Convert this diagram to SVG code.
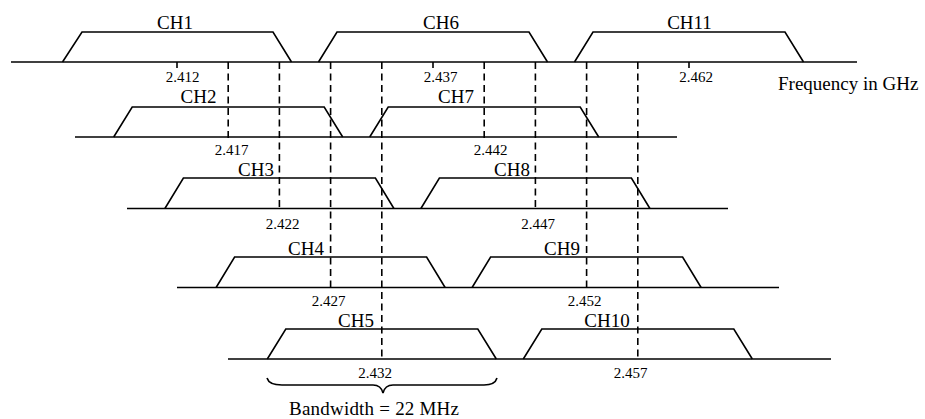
<svg xmlns="http://www.w3.org/2000/svg" width="925" height="419" viewBox="0 0 925 419">
<style>
.ln{stroke:#000;stroke-width:1.6;fill:none;stroke-linejoin:miter}
.ds{stroke:#000;stroke-width:1.6;fill:none;stroke-dasharray:7 4.5}
.ch{font-family:"Liberation Serif","Times New Roman",serif;font-size:19px;fill:#000;text-anchor:middle}
.nm{font-family:"Liberation Serif","Times New Roman",serif;font-size:15px;fill:#000;text-anchor:middle}
.lb{font-family:"Liberation Serif","Times New Roman",serif;font-size:19px;fill:#000}
</style>
<rect x="0" y="0" width="925" height="419" fill="#fff"/>
<g id="axes">
<line class="ln" x1="11" y1="62" x2="857" y2="62"/>
<line class="ln" x1="75" y1="137" x2="677" y2="137"/>
<line class="ln" x1="127" y1="208.5" x2="728" y2="208.5"/>
<line class="ln" x1="177" y1="287.5" x2="779" y2="287.5"/>
<line class="ln" x1="228" y1="359" x2="831" y2="359"/>
<line class="ln" x1="177" y1="62" x2="177" y2="68"/>
<line class="ln" x1="433" y1="62" x2="433" y2="68"/>
<line class="ln" x1="689" y1="62" x2="689" y2="68"/>
<text class="lb" x="778" y="90">Frequency in GHz</text>
</g>
<g id="connectors">
<line class="ds" x1="228.2" y1="62" x2="228.2" y2="139"/>
<line class="ds" x1="279.4" y1="62" x2="279.4" y2="211"/>
<line class="ds" x1="330.6" y1="62" x2="330.6" y2="290"/>
<line class="ds" x1="381.8" y1="62" x2="381.8" y2="361"/>
<line class="ds" x1="484.2" y1="62" x2="484.2" y2="139"/>
<line class="ds" x1="535.4" y1="62" x2="535.4" y2="211"/>
<line class="ds" x1="586.6" y1="62" x2="586.6" y2="290"/>
<line class="ds" x1="637.8" y1="62" x2="637.8" y2="361"/>
</g>
<g id="ch1">
<polyline class="ln" points="62.5,62 82,32 273,32 291.5,62"/>
<text class="ch" x="175" y="29">CH1</text>
<text class="nm" x="182.5" y="82">2.412</text>
</g>
<g id="ch6">
<polyline class="ln" points="318.5,62 337,32 529,32 547.5,62"/>
<text class="ch" x="441" y="29">CH6</text>
<text class="nm" x="440.5" y="82">2.437</text>
</g>
<g id="ch11">
<polyline class="ln" points="574.5,62 593,32 785,32 803.5,62"/>
<text class="ch" x="689.5" y="29">CH11</text>
<text class="nm" x="696" y="82">2.462</text>
</g>
<g id="ch2">
<polyline class="ln" points="113.7,137 132.2,107 324.2,107 342.7,137"/>
<text class="ch" x="198.5" y="103">CH2</text>
<text class="nm" x="231.5" y="155">2.417</text>
</g>
<g id="ch7">
<polyline class="ln" points="369.7,137 388.2,107 580.2,107 598.7,137"/>
<text class="ch" x="456" y="103">CH7</text>
<text class="nm" x="490.5" y="154.5">2.442</text>
</g>
<g id="ch3">
<polyline class="ln" points="164.9,208.5 183.4,178 375.4,178 393.9,208.5"/>
<text class="ch" x="256" y="176">CH3</text>
<text class="nm" x="282.5" y="229">2.422</text>
</g>
<g id="ch8">
<polyline class="ln" points="420.9,208.5 439.4,178 631.4,178 649.9,208.5"/>
<text class="ch" x="512" y="176">CH8</text>
<text class="nm" x="538" y="229">2.447</text>
</g>
<g id="ch4">
<polyline class="ln" points="216.1,287.5 234.6,257 426.6,257 445.1,287.5"/>
<text class="ch" x="306" y="254.5">CH4</text>
<text class="nm" x="328.5" y="306">2.427</text>
</g>
<g id="ch9">
<polyline class="ln" points="472.1,287.5 490.6,257 682.6,257 701.1,287.5"/>
<text class="ch" x="562" y="254.5">CH9</text>
<text class="nm" x="584.5" y="305.5">2.452</text>
</g>
<g id="ch5">
<polyline class="ln" points="267.3,359 285.8,329 477.8,329 496.3,359"/>
<text class="ch" x="356" y="326.5">CH5</text>
<text class="nm" x="375" y="378">2.432</text>
</g>
<g id="ch10">
<polyline class="ln" points="523.3,359 541.8,329 733.8,329 752.3,359"/>
<text class="ch" x="607" y="326.5">CH10</text>
<text class="nm" x="630.5" y="377.5">2.457</text>
</g>
<g id="bandwidth">
<path class="ln" d="M267,378 Q269,385 282,385 L373,385 Q381,385 383,393 Q385,385 393,385 L484,385 Q495,385 497,378"/>
<text class="lb" x="289" y="415" textLength="170" lengthAdjust="spacing">Bandwidth = 22 MHz</text>
</g>
</svg>
